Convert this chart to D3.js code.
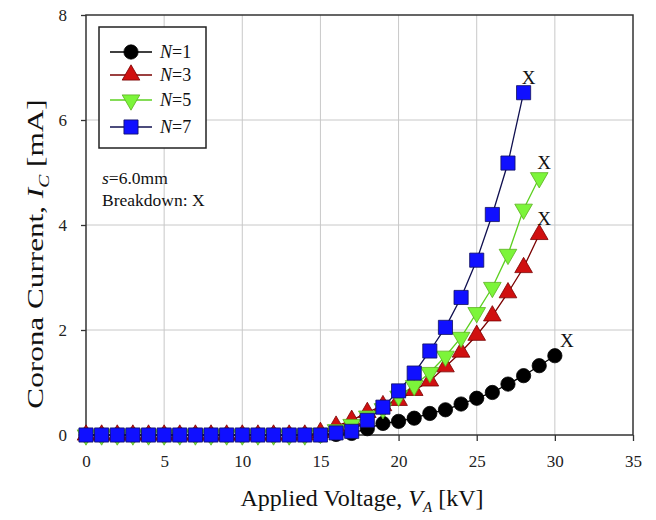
<!DOCTYPE html>
<html>
<head>
<meta charset="utf-8">
<script src="https://cdn.jsdelivr.net/npm/d3@7"></script>
<style>
	body { margin: 0; background: #fff; }
	svg { font-family: "Liberation Serif", "Times New Roman", serif; }
</style>
</head>
<body>
<div id="contents"></div>
<script>
// applied voltage [kV]
var voltage = d3.range(0, 31);
var xTicks = [0, 5, 10, 15, 20, 25, 30, 35];
var yTicks = [0, 2, 4, 6, 8];

// corona current [mA]
var n1 = [0,0,0,0,0,0,0,0,0,0,0,0,0,0,0,0,0.01,0.03,0.12,0.22,0.26,0.32,0.41,0.48,0.59,0.7,0.81,0.97,1.13,1.32,1.51];
var n3 = [0,0,0,0,0,0,0,0,0,0,0,0,0,0,0,0.05,0.17,0.28,0.43,0.56,0.66,0.85,1.03,1.3,1.58,1.9,2.27,2.71,3.19,3.82];
var n5 = [0,0,0,0,0,0,0,0,0,0,0,0,0,0,0,0.03,0.1,0.2,0.36,0.5,0.74,0.94,1.19,1.5,1.86,2.33,2.81,3.44,4.3,4.9];
var n7 = [0,0,0,0,0,0,0,0,0,0,0,0,0,0,0,0,0.04,0.07,0.28,0.53,0.84,1.18,1.6,2.05,2.62,3.33,4.2,5.18,6.52];

var seriesNames = ['1', '3', '5', '7'];
var seriesValues = [n1, n3, n5, n7];

var styles = [
	{ shape: d3.symbolCircle,   fill: '#000000', line: '#000000', stroke: '#000000', size: 160 },
	{ shape: d3.symbolTriangle, fill: '#d01010', line: '#7a0000', stroke: '#7a0000', size: 135 },
	{ shape: d3.symbolTriangle, fill: '#7cf53a', line: '#5cd020', stroke: '#5cb020', size: 135, flip: true },
	{ shape: d3.symbolSquare,   fill: '#1010ff', line: '#101050', stroke: '#101060', size: 200 }
];

var W = 656, H = 520;
var m = { left: 86, right: 23, top: 15, bottom: 85 };
var pw = W - m.left - m.right, ph = H - m.top - m.bottom;

var svg = d3.select('#contents').append('svg')
	.attr('width', W)
	.attr('height', H);

var x = d3.scaleLinear().domain([0, 35]).range([0, pw]);
var y = d3.scaleLinear().domain([0, 8]).range([ph, 0]);

var g = svg.append('g').attr('transform', 'translate(' + m.left + ',' + m.top + ')');

// grid
g.append('g').selectAll('line.gx')
	.data(xTicks.slice(1, -1))
	.enter().append('line')
	.attr('x1', function(d) { return x(d); })
	.attr('x2', function(d) { return x(d); })
	.attr('y1', 0).attr('y2', ph)
	.attr('stroke', '#c8c8c8').attr('stroke-width', 1);
g.append('g').selectAll('line.gy')
	.data(yTicks.slice(1, -1))
	.enter().append('line')
	.attr('y1', function(d) { return y(d); })
	.attr('y2', function(d) { return y(d); })
	.attr('x1', 0).attr('x2', pw)
	.attr('stroke', '#c8c8c8').attr('stroke-width', 1);

// frame
g.append('rect')
	.attr('width', pw).attr('height', ph)
	.attr('fill', 'none')
	.attr('stroke', '#333').attr('stroke-width', 1.5);

// axes
var xAxis = g.append('g')
	.attr('transform', 'translate(0,' + ph + ')')
	.call(d3.axisBottom(x).tickValues(xTicks).tickSize(6).tickPadding(14));
var yAxis = g.append('g')
	.call(d3.axisLeft(y).tickValues(yTicks).tickSize(5).tickPadding(14));
[xAxis, yAxis].forEach(function(a) {
	a.select('.domain').remove();
	a.selectAll('line').attr('stroke', '#333').attr('stroke-width', 1.3);
	a.selectAll('text')
		.attr('fill', '#222')
		.style('font-family', '"Liberation Serif", serif')
		.style('font-size', '17px');
});

// lines and markers
var line = d3.line()
	.x(function(d, i) { return x(voltage[i]); })
	.y(function(d) { return y(d); });

seriesValues.forEach(function(vals, k) {
	var s = styles[k];
	g.append('path')
		.datum(vals)
		.attr('d', line)
		.attr('fill', 'none')
		.attr('stroke', s.line)
		.attr('stroke-width', 1.3);
});

seriesValues.forEach(function(vals, k) {
	var s = styles[k];
	var sym = d3.symbol().type(s.shape).size(s.size);
	g.append('g').selectAll('path')
		.data(vals)
		.enter().append('path')
		.attr('d', sym)
		.attr('transform', function(d, i) {
			return 'translate(' + x(voltage[i]) + ',' + y(d) + ')' + (s.flip ? ' rotate(180)' : '');
		})
		.attr('fill', s.fill)
		.attr('stroke', s.stroke)
		.attr('stroke-width', 0.8);
});

// breakdown marks
seriesValues.forEach(function(vals, k) {
	var i = vals.length - 1;
	g.append('text')
		.attr('x', x(voltage[i]) + (k == 0 ? 12 : 5))
		.attr('y', y(vals[i]) - 9)
		.attr('text-anchor', 'middle')
		.style('font-size', '19px')
		.attr('fill', '#111')
		.text('X');
});

// legend
var lg = svg.append('g').attr('transform', 'translate(99,27)');
lg.append('rect')
	.attr('width', 107).attr('height', 121)
	.attr('fill', '#fff')
	.attr('stroke', '#222').attr('stroke-width', 1.5);
seriesNames.forEach(function(n, k) {
	var s = styles[k];
	var ly = [25, 48, 73, 100][k];
	lg.append('line')
		.attr('x1', 11).attr('x2', 53)
		.attr('y1', ly).attr('y2', ly)
		.attr('stroke', s.line).attr('stroke-width', 1.3);
	lg.append('path')
		.attr('d', d3.symbol().type(s.shape).size(s.size)())
		.attr('transform', 'translate(32,' + ly + ')' + (s.flip ? ' rotate(180)' : ''))
		.attr('fill', s.fill)
		.attr('stroke', s.stroke)
		.attr('stroke-width', 0.8);
	var t = lg.append('text')
		.attr('x', 61).attr('y', ly + 6)
		.style('font-size', '18px')
		.attr('fill', '#111');
	t.append('tspan').style('font-style', 'italic').text('N');
	t.append('tspan').text('=' + n);
});

// annotation
var note = svg.append('g').style('font-size', '17.5px').attr('fill', '#111');
var t1 = note.append('text').attr('x', 102).attr('y', 184);
t1.append('tspan').style('font-style', 'italic').text('s');
t1.append('tspan').text('=6.0mm');
note.append('text').attr('x', 102).attr('y', 206).text('Breakdown: X');

// axis titles
var xt = svg.append('text')
	.attr('x', 362).attr('y', 506)
	.attr('text-anchor', 'middle')
	.style('font-size', '24px')
	.attr('fill', '#111');
xt.append('tspan').text('Applied Voltage, ');
xt.append('tspan').style('font-style', 'italic').text('V');
xt.append('tspan').style('font-style', 'italic').style('font-size', '15px').attr('dy', 6).text('A');
xt.append('tspan').attr('dy', -6).text(' [kV]');

var yt = svg.append('text')
	.attr('transform', 'translate(43,254) rotate(-90) scale(1.3,1)')
	.attr('text-anchor', 'middle')
	.style('font-size', '24px')
	.attr('fill', '#111');
yt.append('tspan').text('Corona Current, ');
yt.append('tspan').style('font-style', 'italic').text('I');
yt.append('tspan').style('font-style', 'italic').style('font-size', '15px').attr('dy', 6).text('C');
yt.append('tspan').attr('dy', -6).text(' [mA]');
</script>
</body>
</html>
